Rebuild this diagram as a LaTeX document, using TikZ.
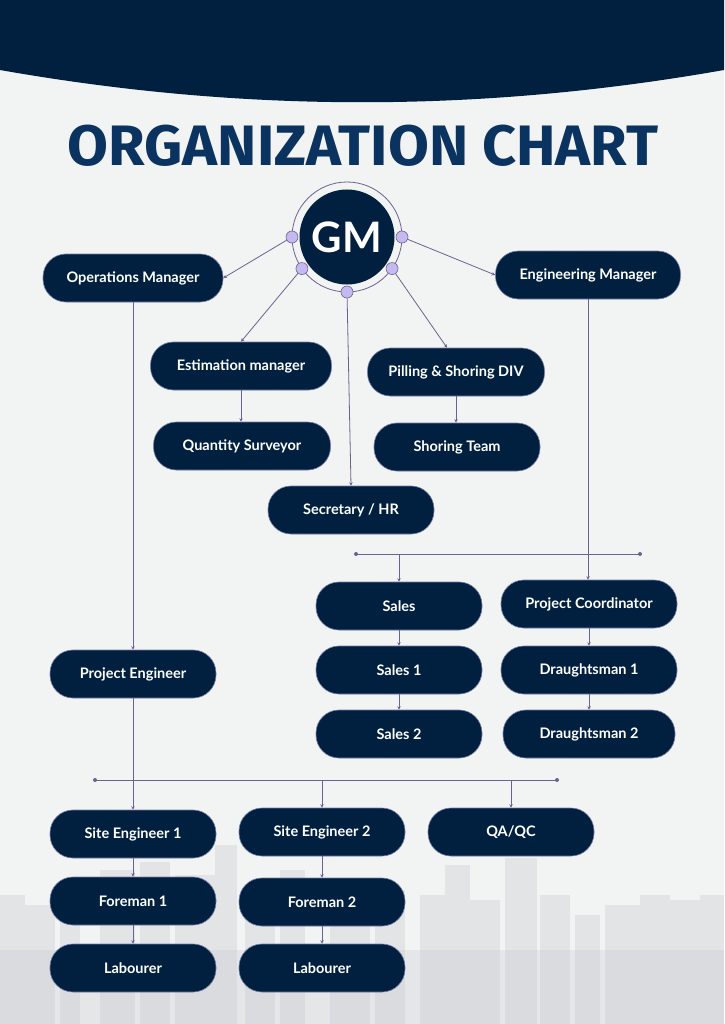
\documentclass[tikz,border=0pt]{standalone}
\usepackage{fontspec}
\usepackage{graphicx}
\setmainfont{Lato}
\newfontfamily\titlefont{Fira Sans}
\usetikzlibrary{arrows.meta}
\definecolor{navy}{HTML}{01203F}
\definecolor{titleblue}{HTML}{0B3360}
\definecolor{paper}{HTML}{F2F3F3}
\definecolor{wirecol}{HTML}{6E6192}
\definecolor{lilac}{HTML}{C5BAF0}
\definecolor{city}{HTML}{BFC3C9}

\begin{document}
\begin{tikzpicture}[x=1pt,y=-1pt,
  box/.style={rounded corners=23pt,fill=navy,draw=lilac!60!navy,line width=0.6pt,minimum height=48pt,minimum width=166pt,text=white,font=\bfseries\fontsize{14.5}{17}\selectfont},
  wire/.style={draw=wirecol,line width=0.8pt},
  arr/.style={wire,-{Stealth[length=3.5pt,width=3.5pt]}},
  knob/.style={circle,fill=lilac,draw=wirecol,line width=0.6pt,minimum size=12pt,inner sep=0pt},
  dot/.style={circle,fill=wirecol,inner sep=0pt,minimum size=4pt}]
      %this draws the page
      \useasboundingbox (0,0) rectangle (724,1024);
      \fill[paper] (0,0) rectangle (724,1024);
      \foreach \x/\t/\w in {0/895/25,25/905/30,60/880/20,100/870/35,140/862/30,175/875/40,215/845/22,245/890/30,280/870/25,330/905/40,375/890/30,420/895/25,445/865/25,470/900/30,505/858/32,540/895/30,575/915/25,605/905/35,640/895/30,670/900/30,700/895/24}
        \fill[city,opacity=0.3] (\x,\t) rectangle (\x+\w,1024);
      \fill[city,opacity=0.25] (0,950) rectangle (724,1024);
      \fill[navy] (0,0) -- (724,0) -- (724,70) .. controls (480,113) and (244,113) .. (0,70) -- cycle;
      \node[font=\titlefont\bfseries\fontsize{57}{60}\selectfont,text=titleblue] (title) at (363,146) {\scalebox{1.04}[1]{ORGANIZATION CHART}};
      %this draws the head
      \node[circle,fill=navy,minimum size=95pt,inner sep=0pt,text=white,font=\bfseries\fontsize{42}{44}\selectfont] (gm) at (347,237) {GM};
      \draw[wire] (gm.center) circle (55pt);
      \foreach \a in {0,180,215,270,325}
        \path (gm.center) ++(\a:55pt) node[knob] (k\a) {};
      %this draws the nodes
      \node[box,minimum width=180pt] (ops) at (133,278) {Operations Manager};
      \node[box,minimum width=185pt] (eng) at (588,275) {Engineering Manager};
      \node[box,minimum width=181pt] (est) at (241,366) {Estimation manager};
      \node[box,minimum width=177pt] (pil) at (456,372) {Pilling \& Shoring DIV};
      \node[box,minimum width=177pt] (qs) at (242,446) {Quantity Surveyor};
      \node[box] (st) at (457,447) {Shoring Team};
      \node[box] (sec) at (351,510) {Secretary / HR};
      \node[box] (sales) at (399,606) {Sales};
      \node[box,minimum width=176pt] (pc) at (589,604) {Project Coordinator};
      \node[box] (s1) at (399,670) {Sales 1};
      \node[box,minimum width=176pt] (d1) at (589,670) {Draughtsman 1};
      \node[box] (s2) at (399,734) {Sales 2};
      \node[box,minimum width=172pt] (d2) at (589,734) {Draughtsman 2};
      \node[box] (pe) at (133,674) {Project Engineer};
      \node[box] (se1) at (133,834) {Site Engineer 1};
      \node[box] (se2) at (322,832) {Site Engineer 2};
      \node[box] (qa) at (511,832) {QA/QC};
      \node[box] (f1) at (133,901) {Foreman 1};
      \node[box] (f2) at (322,902) {Foreman 2};
      \node[box] (l1) at (133,968) {Labourer};
      \node[box] (l2) at (322,968) {Labourer};
      %this draws the lines from the head
      \draw[arr] (k180) -- (ops.east);
      \draw[arr] (k0) -- (eng.west);
      \draw[arr] (k215) -- (est.north);
      \draw[arr] (k270) -- (sec.north);
      \draw[arr] (k325) -- ([xshift=-9pt]pil.north);
      %this draws the buses
      \coordinate (ubl) at (356,554);
      \coordinate (ubr) at (640,554);
      \coordinate (lbl) at (95,780);
      \coordinate (lbr) at (557,780);
      \draw[wire] (ubl) -- (ubr);
      \draw[wire] (lbl) -- (lbr);
      \foreach \c in {ubl,ubr,lbl,lbr}
        \node[dot] at (\c) {};
      \draw[arr] (ops) -- (pe);
      \draw[arr] (eng.south) -- (eng.south |- pc.north);
      \draw[arr] (sales.north |- ubl) -- (sales.north);
      \draw[arr] (pe) -- (se1);
      \draw[arr] (se2.north |- lbl) -- (se2.north);
      \draw[arr] (qa.north |- lbl) -- (qa.north);
      %this draws the chains
      \foreach \a/\b in {est/qs,pil/st,sales/s1,s1/s2,pc/d1,d1/d2,se1/f1,f1/l1,se2/f2,f2/l2}
        \draw[arr] (\a.south) -- (\a.south |- \b.north);
\end{tikzpicture}
\end{document}
